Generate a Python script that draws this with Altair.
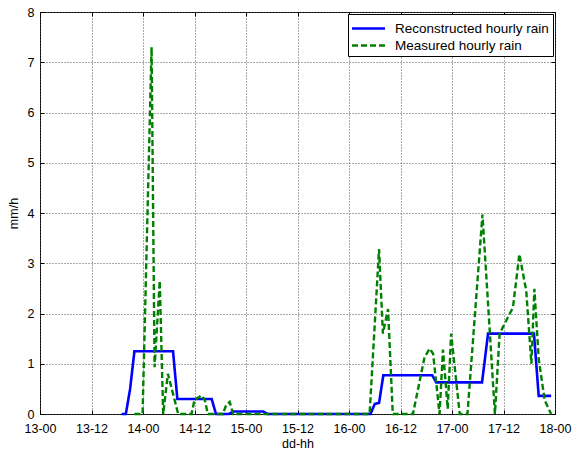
import altair as alt
import pandas as pd

# x in hours since 13-00
tick_labels = ["13-00", "13-12", "14-00", "14-12", "15-00", "15-12",
               "16-00", "16-12", "17-00", "17-12", "18-00"]
tick_hours = [0, 12, 24, 36, 48, 60, 72, 84, 96, 108, 120]
y_ticks = [0, 1, 2, 3, 4, 5, 6, 7, 8]

rec_hours = [19, 20, 21, 22, 31, 32, 40, 41, 44, 45, 52, 53, 77, 78, 79, 80,
             91.4, 92.3, 103, 104.4, 115.1, 116.2, 119.1]
rec_vals = [0, 0, 0.5, 1.25, 1.25, 0.3, 0.3, 0, 0, 0.05, 0.05, 0, 0, 0.2, 0.22, 0.77,
            0.77, 0.63, 0.63, 1.6, 1.6, 0.36, 0.36]

meas_hours = [22, 23.9, 26.0, 26.7, 27.9, 28.7, 29.8, 31.0, 32.2, 35.3, 36.0, 37.6,
              38.4, 39.1, 42.6, 43.4, 44.2, 45.0, 76.8, 79.0, 79.9, 81.1, 82.2,
              86.9, 89.6, 90.8, 91.6, 93.1, 93.9, 95.0, 95.8, 97.8, 99.6, 103.1,
              106.0, 107.1, 110.2, 111.7, 113.3, 114.5, 115.2, 116.2, 117.6, 119.1]
meas_vals = [0, 0, 7.3, 0.93, 2.65, 0, 0.8, 0.4, 0, 0, 0.28, 0.37,
             0.28, 0, 0, 0.18, 0.24, 0, 0, 3.28, 1.6, 2.09, 0,
             0, 1.13, 1.3, 1.2, 0, 1.28, 0.1, 1.6, 0, 0, 3.97,
             0, 1.6, 2.12, 3.18, 2.45, 1.0, 2.49, 1.1, 0.27, 0]

series = ["Reconstructed hourly rain", "Measured hourly rain"]

df_rec = pd.DataFrame({"h": rec_hours, "v": rec_vals, "s": series[0]})
df_meas = pd.DataFrame({"h": meas_hours, "v": meas_vals, "s": series[1]})

label_expr = "[" + ",".join("'%s'" % t for t in tick_labels) + "][round(datum.value/12)]"

font = "Liberation Sans"
xscale = alt.Scale(domain=[0, 120], nice=False, zero=False)
yscale = alt.Scale(domain=[0, 8], nice=False)

main_x = alt.Axis(values=tick_hours, labelExpr=label_expr, title="dd-hh", orient="bottom",
                  grid=True, gridDash=[1, 2], gridColor="#555", gridOpacity=1,
                  ticks=False, domain=False, labelPadding=8,
                  labelFont=font, labelFontSize=12.5, labelColor="black",
                  titleFont=font, titleFontSize=12.5, titleFontWeight="normal",
                  titleColor="black", titlePadding=3, labelFlush=False)
main_y = alt.Axis(values=y_ticks, title="mm/h", orient="left",
                  grid=True, gridDash=[1, 2], gridColor="#555", gridOpacity=1,
                  ticks=False, domain=False, labelPadding=6,
                  labelFont=font, labelFontSize=12.5, labelColor="black",
                  titleFont=font, titleFontSize=12.5, titleFontWeight="normal",
                  titleColor="black", titlePadding=7)


def tick_axis(orient, vals):
    # inward MATLAB-style ticks
    return alt.Axis(orient=orient, values=vals, offset=-4, tickSize=4, ticks=True,
                    tickColor="black", tickWidth=1, labels=False, domain=False,
                    grid=False, title="")


color = alt.Color("s:N", scale=alt.Scale(domain=series, range=["#0000FF", "#008000"]),
                  legend=alt.Legend(title=None))
dash = alt.StrokeDash("s:N", scale=alt.Scale(domain=series, range=[[1, 0], [6, 3]]),
                      legend=alt.Legend(title=None))

rec = alt.Chart(df_rec).mark_line(strokeWidth=2.6).encode(
    x=alt.X("h:Q", scale=xscale, axis=main_x),
    y=alt.Y("v:Q", scale=yscale, axis=main_y),
    color=color, strokeDash=dash)
meas = alt.Chart(df_meas).mark_line(strokeWidth=2.4).encode(
    x=alt.X("h:Q", scale=xscale, axis=tick_axis("bottom", tick_hours)),
    y=alt.Y("v:Q", scale=yscale, axis=tick_axis("left", y_ticks)),
    color=color, strokeDash=dash)
frame_ticks = alt.Chart(df_rec).mark_line(strokeOpacity=0).encode(
    x=alt.X("h:Q", scale=xscale, axis=tick_axis("top", tick_hours)),
    y=alt.Y("v:Q", scale=yscale, axis=tick_axis("right", y_ticks)))

chart = alt.layer(rec, meas, frame_ticks).resolve_axis(
    x="independent", y="independent"
).properties(
    width=515, height=402,
    autosize=alt.AutoSizeParams(type="none"),
    padding={"left": 40, "top": 12, "right": 20, "bottom": 39},
    background="white",
).configure_view(
    stroke="black", strokeWidth=1
).configure_legend(
    orient="none", legendX=308, legendY=2,
    symbolType="M-1.833,0H1.833", symbolSize=324, symbolOffset=6,
    symbolStrokeWidth=2.5, labelFont=font, labelFontSize=13.5, labelColor="black",
    fillColor="white", strokeColor="black", padding=4, rowPadding=0,
    labelOffset=16, labelLimit=300,
)

chart.save("out.html", embed_options={"renderer": "svg", "actions": False})
